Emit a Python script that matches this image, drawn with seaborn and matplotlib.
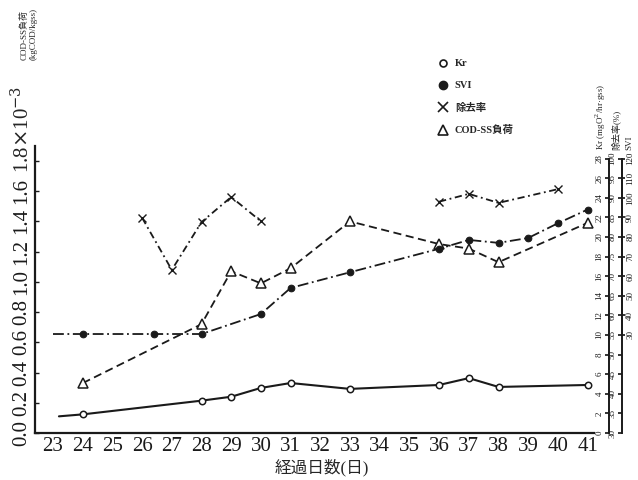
import pandas as pd
import seaborn as sns
import matplotlib.pyplot as plt
from matplotlib.lines import Line2D

# values
kr_day = [23.2, 24, 28, 29, 30, 31, 33, 36, 37, 38, 41]
kr_val = [1.7, 1.9, 3.3, 3.7, 4.6, 5.1, 4.5, 4.9, 5.6, 4.7, 4.9]
svi_day = [23, 24, 26.4, 28, 30, 31, 33, 36, 37, 38, 39, 40, 41]
svi_val = [30.5, 30.5, 30.5, 30.5, 40.7, 54, 62, 74, 78.5, 77, 79.5, 87, 94]
rem_day = [26, 27, 28, 29, 30, 36, 37, 38, 40]
rem_val = [84.9, 71.6, 83.8, 90.2, 84, 89, 91, 88.7, 92.2]
rem_seg = [1, 1, 1, 1, 1, 2, 2, 2, 2]
cod_day = [24, 28, 29, 30, 31, 33, 36, 37, 38, 41]
cod_val = [0.33, 0.72, 1.07, 0.99, 1.09, 1.40, 1.25, 1.22, 1.13, 1.39]

days = list(range(23, 42))
left_ticks = [0.0, 0.2, 0.4, 0.6, 0.8, 1.0, 1.2, 1.4, 1.6]
kr_ticks = list(range(0, 29, 2))
rem_ticks = list(range(30, 101, 5))
svi_ticks = list(range(30, 121, 10))

sns.set_theme(style="white")
plt.rcParams['font.family'] = ['Liberation Serif', 'Noto Sans CJK JP', 'DejaVu Sans']
plt.rcParams['mathtext.fontset'] = 'dejavuserif'

fig = plt.figure(figsize=(6.38, 4.8), dpi=100)
ax_w = 574
ax = fig.add_axes([35/638, 47/480, ax_w/638, 393/480])
ax_kr = ax.twinx()
ax_rem = ax.twinx()
ax_svi = ax.twinx()

lw = 1.3
# COD-SS load, dashed with open triangles
cod = pd.DataFrame({'day': cod_day, 'v': cod_val})
sns.lineplot(data=cod, x='day', y='v', ax=ax, color='k', lw=lw,
             linestyle=(0, (4.5, 2.5)), marker='^', markersize=6.5,
             markerfacecolor='white', markeredgecolor='k', markeredgewidth=1.1)

# Kr, solid with open circles
kr = pd.DataFrame({'day': kr_day, 'v': kr_val})
sns.lineplot(data=kr, x='day', y='v', ax=ax_kr, color='k', lw=1.5,
             marker='o', markersize=4.6, markevery=list(range(1, len(kr_day))),
             markerfacecolor='white', markeredgecolor='k', markeredgewidth=1.1)

# SVI, dash-dot with filled circles
svi = pd.DataFrame({'day': svi_day, 'v': svi_val})
sns.lineplot(data=svi, x='day', y='v', ax=ax_svi, color='k', lw=lw,
             linestyle=(0, (6, 2, 1, 2)), marker='o', markersize=4.8,
             markevery=list(range(1, len(svi_day))),
             markerfacecolor='k', markeredgecolor='k')

# removal rate, dash-dot with crosses (two separate runs)
rem = pd.DataFrame({'day': rem_day, 'v': rem_val, 'seg': rem_seg})
sns.lineplot(data=rem, x='day', y='v', units='seg', estimator=None, ax=ax_rem,
             color='k', lw=lw, linestyle=(0, (4, 2, 1, 2)), marker='x',
             markersize=5.5, markeredgewidth=1.0, markeredgecolor='k')

x0 = 23 - 18 / 29.7
x1 = 23 + (35 + ax_w - 53) / 29.7
for a in (ax, ax_kr, ax_rem, ax_svi):
    a.set_xlim(x0, x1)
    a.set_xlabel('')
    a.set_ylabel('')
    a.patch.set_visible(False)
    for s in a.spines.values():
        s.set_visible(False)

ax.set_ylim(0, 2.60)
ax_kr.set_ylim(0, 40.1)
ax_rem.set_ylim(30, 30 + 2.5 * 40.1)
ax_svi.set_ylim(-20, 5 * 40.1 - 20)

# bottom axis
ax.spines['bottom'].set_visible(True)
ax.spines['bottom'].set_bounds(x0, 41.2)
ax.set_xticks(days)
ax.set_xticklabels([str(d) for d in days], fontsize=15)
ax.tick_params(axis='x', direction='in', length=4, width=1, pad=3, colors='k')

# left axis
ax.spines['left'].set_visible(True)
ax.spines['left'].set_bounds(0, 1.9)
ax.set_yticks(left_ticks + [1.8])
ax.set_yticklabels([f'{t:.1f}' for t in left_ticks] + [''], fontsize=15, rotation=90,
                   va='center')
ax.tick_params(axis='y', direction='in', length=3, width=1, pad=3, colors='k')
for s in ('bottom', 'left'):
    ax.spines[s].set_linewidth(1.6)
    ax.spines[s].set_color('k')

y18 = fig.transFigure.inverted().transform(ax.transData.transform((0, 1.8)))[1]
fig.text(23/638, y18 - 12/480, r'1.8$\times$10$^{-3}$', rotation=90, fontsize=15,
         ha='center', va='bottom')
fig.text(20/638, 472/480, 'COD-SS負荷\n(kgCOD/kgss)', rotation=90, fontsize=6.5,
         ha='left', va='top', linespacing=1.1)

# right axes: Kr, removal, SVI
ax_kr.spines['left'].set_visible(True)
ax_kr.spines['left'].set_position(('axes', 1.0))
ax_kr.spines['left'].set_bounds(0, 28)
ax_kr.yaxis.set_ticks_position('left')
ax_kr.set_yticks(kr_ticks)
ax_kr.tick_params(axis='y', direction='out', length=3, pad=1, labelsize=6.5,
                  labelrotation=90, colors='k')

pos2 = 13 / ax_w + 1.0
ax_rem.spines['left'].set_visible(True)
ax_rem.spines['left'].set_position(('axes', pos2))
ax_rem.spines['left'].set_bounds(30, 100)
ax_rem.yaxis.set_ticks_position('left')
ax_rem.set_yticks(rem_ticks)
ax_rem.tick_params(axis='y', direction='out', length=3, pad=1, labelsize=6.5,
                   labelrotation=90, colors='k')

ax_svi.spines['right'].set_visible(True)
ax_svi.spines['right'].set_position(('axes', pos2))
ax_svi.spines['right'].set_bounds(30, 120)
ax_svi.yaxis.set_ticks_position('right')
ax_svi.set_yticks(svi_ticks)
ax_svi.tick_params(axis='y', direction='out', length=2, pad=1, labelsize=6.5,
                   labelrotation=90, colors='k')
for a, s in ((ax_kr, 'left'), (ax_rem, 'left'), (ax_svi, 'right')):
    a.spines[s].set_linewidth(1.4)
    a.spines[s].set_color('k')
    for lab in a.get_yticklabels():
        lab.set_va('center')

fig.text(601/638, 1 - 150/480, 'Kr (mgO$^2$/hr·gss)', rotation=90, fontsize=6.5,
         ha='center', va='bottom')
fig.text(616/638, 1 - 150/480, '除去率(%)', rotation=90, fontsize=6.5,
         ha='center', va='bottom')
fig.text(629/638, 1 - 150/480, 'SVI', rotation=90, fontsize=6.5,
         ha='center', va='bottom')

ax.set_xlabel('経過日数(日)', fontsize=12, labelpad=2)

handles = [
    Line2D([], [], ls='none', marker='o', mfc='white', mec='k', ms=5, mew=1.2),
    Line2D([], [], ls='none', marker='o', mfc='k', mec='k', ms=6),
    Line2D([], [], ls='none', marker='x', mec='k', ms=6.5, mew=1.2),
    Line2D([], [], ls='none', marker='^', mfc='white', mec='k', ms=7, mew=1.2),
]
leg = fig.legend(handles, ['Kr', 'SVI', '除去率', 'COD-SS負荷'], loc='upper left',
                 bbox_to_anchor=(433/638, 1 - 54/480), frameon=False,
                 prop={'size': 7.5, 'weight': 'bold'}, handlelength=1.0,
                 handletextpad=0.6, labelspacing=1.2, borderpad=0)

fig.savefig('out.png', dpi=100)
